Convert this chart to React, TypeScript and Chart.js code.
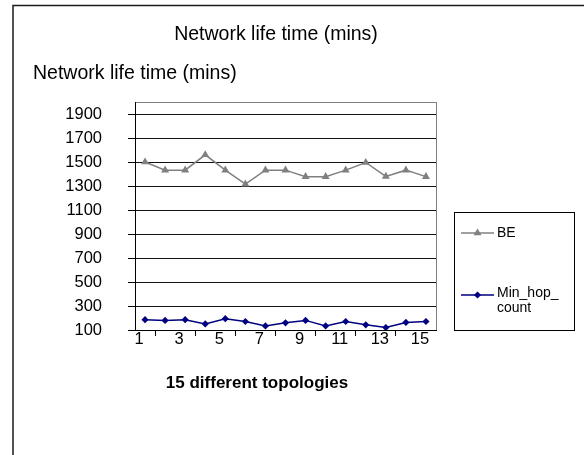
import React, { useEffect, useRef } from 'react';
import { Chart, registerables } from 'chart.js';

Chart.register(...registerables);

const CATEGORIES = ['1', '2', '3', '4', '5', '6', '7', '8', '9', '10', '11', '12', '13', '14', '15'];
const BE_VALUES = [1500, 1432, 1432, 1560, 1432, 1316, 1432, 1432, 1378, 1378, 1432, 1496, 1380, 1432, 1378];
const MIN_HOP_VALUES = [186, 180, 186, 151, 194, 171, 134, 160, 180, 134, 171, 143, 120, 163, 171];
const SERIES_NAMES = ['BE', 'Min_hop_count'];
const Y_TICKS = [100, 300, 500, 700, 900, 1100, 1300, 1500, 1700, 1900];
const Y_MIN = 100;
const Y_MAX = 2000;
const TITLE = 'Network life time (mins)';
const Y_TITLE = 'Network life time (mins)';
const X_TITLE = '15 different topologies';

const FONT = "'Liberation Sans', Arial, sans-serif";
const BE_COLOR = '#808080';
const MIN_HOP_COLOR = '#000080';

function wrapText(ctx: CanvasRenderingContext2D, text: string, maxWidth: number): string[] {
  const lines: string[] = [];
  let cur = '';
  for (const ch of text) {
    if (cur && ctx.measureText(cur + ch).width > maxWidth) {
      lines.push(cur);
      cur = ch;
    } else {
      cur += ch;
    }
  }
  if (cur) lines.push(cur);
  return lines;
}

function drawMarker(ctx: CanvasRenderingContext2D, style: string, x: number, y: number, r: number, color: string) {
  ctx.save();
  ctx.fillStyle = color;
  ctx.beginPath();
  if (style === 'triangle') {
    let rad = 0;
    ctx.moveTo(x + Math.sin(rad) * r, y - Math.cos(rad) * r);
    rad += (2 * Math.PI) / 3;
    ctx.lineTo(x + Math.sin(rad) * r, y - Math.cos(rad) * r);
    rad += (2 * Math.PI) / 3;
    ctx.lineTo(x + Math.sin(rad) * r, y - Math.cos(rad) * r);
  } else {
    ctx.moveTo(x - r, y);
    ctx.lineTo(x, y - r);
    ctx.lineTo(x + r, y);
    ctx.lineTo(x, y + r);
  }
  ctx.closePath();
  ctx.fill();
  ctx.restore();
}

const decorPlugin = {
  id: 'decor',
  beforeDatasetsDraw(chart: any) {
    const { ctx, chartArea: a } = chart;
    ctx.save();
    ctx.strokeStyle = '#808080';
    ctx.lineWidth = 1;
    ctx.beginPath();
    ctx.moveTo(Math.round(a.right) + 0.5, a.top);
    ctx.lineTo(Math.round(a.right) + 0.5, a.bottom);
    ctx.stroke();
    ctx.restore();
  },
  afterDraw(chart: any) {
    const { ctx } = chart;
    ctx.save();
    // outer frame
    ctx.strokeStyle = '#1a1a1a';
    ctx.lineWidth = 1.5;
    ctx.beginPath();
    ctx.moveTo(13, 455);
    ctx.lineTo(13, 5.5);
    ctx.lineTo(584, 5.5);
    ctx.stroke();

    // titles
    ctx.fillStyle = '#000';
    ctx.font = `19.5px ${FONT}`;
    ctx.textBaseline = 'middle';
    ctx.textAlign = 'center';
    ctx.fillText(TITLE, 276, 35);
    ctx.textAlign = 'left';
    ctx.fillText(Y_TITLE, 33, 74);

    ctx.font = `bold 17px ${FONT}`;
    ctx.textAlign = 'center';
    ctx.fillText(X_TITLE, 257, 383);

    // legend
    ctx.strokeStyle = '#000';
    ctx.lineWidth = 1;
    ctx.strokeRect(454.5, 212.5, 120, 118);
    ctx.font = `14px ${FONT}`;
    ctx.textAlign = 'left';
    const entries = chart.data.datasets.map((ds: any, i: number) => ({
      label: ds.label,
      color: ds.borderColor,
      style: ds.pointStyle,
      r: ds.pointRadius,
      y: i === 0 ? 233 : 295,
    }));
    entries.forEach((e: any) => {
      ctx.strokeStyle = e.color;
      ctx.lineWidth = 1.5;
      ctx.beginPath();
      ctx.moveTo(461, e.y);
      ctx.lineTo(494, e.y);
      ctx.stroke();
      drawMarker(ctx, e.style, 477.5, e.y, e.r, e.color);
      const lines = wrapText(ctx, e.label, 64);
      ctx.fillStyle = '#000';
      if (lines.length === 1) {
        ctx.fillText(lines[0], 497, e.y);
      } else {
        lines.forEach((ln, k) => ctx.fillText(ln, 497, e.y - 2 + k * 15));
      }
    });
    ctx.restore();
  },
};

export default function App() {
  const ref = useRef<HTMLCanvasElement | null>(null);
  useEffect(() => {
    if (!ref.current) return;
    const chart = new Chart(ref.current, {
      type: 'line',
      data: {
        labels: CATEGORIES,
        datasets: [
          {
            label: SERIES_NAMES[0],
            data: BE_VALUES,
            borderColor: BE_COLOR,
            backgroundColor: BE_COLOR,
            borderWidth: 1.5,
            pointStyle: 'triangle',
            pointRadius: 4.6,
            pointBorderWidth: 0,
            tension: 0,
          },
          {
            label: SERIES_NAMES[1],
            data: MIN_HOP_VALUES,
            borderColor: MIN_HOP_COLOR,
            backgroundColor: MIN_HOP_COLOR,
            borderWidth: 1.5,
            pointStyle: 'rectRot',
            pointRadius: 3.6,
            pointBorderWidth: 0,
            tension: 0,
          },
        ],
      },
      options: {
        animation: false,
        responsive: false,
        devicePixelRatio: 1,
        layout: { padding: { top: 102, left: 0, right: 148, bottom: 100 } },
        plugins: {
          legend: { display: false },
          title: { display: false },
          tooltip: { enabled: false },
        },
        scales: {
          x: {
            type: 'category',
            offset: true,
            afterFit: (scale: any) => { scale.height = 25; },
            grid: {
              offset: true,
              drawOnChartArea: false,
              drawTicks: true,
              tickLength: 6,
              tickColor: (c: any) => (c.index % 2 === 1 ? '#000' : 'rgba(0,0,0,0)'),
            },
            border: { display: true, color: '#000', width: 1 },
            ticks: {
              autoSkip: false,
              maxRotation: 0,
              minRotation: 0,
              padding: -6,
              labelOffset: -6,
              color: '#000',
              font: { family: FONT, size: 16.5 },
              callback: (_v: any, i: number) => (i % 2 === 0 ? CATEGORIES[i] : ''),
            },
          },
          y: {
            type: 'linear',
            min: Y_MIN,
            max: Y_MAX,
            afterFit: (scale: any) => { scale.width = 135; },
            afterBuildTicks: (scale: any) => {
              scale.ticks = [...Y_TICKS, Y_MAX].map((v) => ({ value: v }));
            },
            grid: {
              color: (c: any) => (c.tick && c.tick.value === Y_MAX ? '#808080' : '#111'),
              tickColor: (c: any) => (c.tick && c.tick.value === Y_MAX ? 'rgba(0,0,0,0)' : '#000'),
              lineWidth: 1,
              drawTicks: true,
              tickLength: 7,
            },
            border: { display: true, color: '#000', width: 1 },
            ticks: {
              padding: 26,
              color: '#000',
              font: { family: FONT, size: 16.5 },
              callback: (v: any) => (v === Y_MAX ? '' : String(v)),
            },
          },
        },
      },
      plugins: [decorPlugin],
    } as any);
    return () => chart.destroy();
  }, []);
  return (
    <div style={{ position: 'fixed', left: 0, top: 0, width: 584, height: 455, background: '#fff' }}>
      <canvas ref={ref} width={584} height={455} style={{ display: 'block', width: 584, height: 455 }} />
    </div>
  );
}
